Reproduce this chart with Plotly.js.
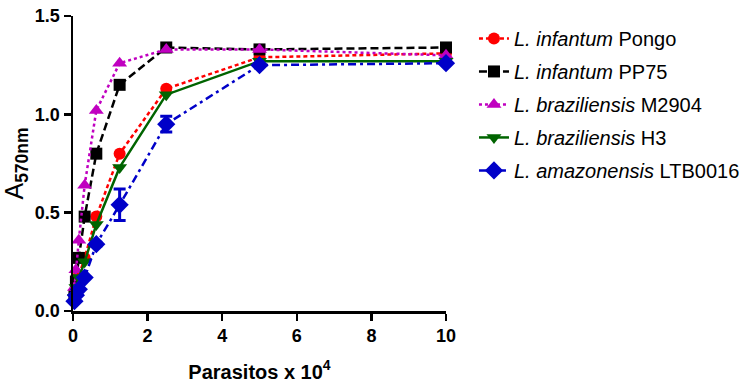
<!DOCTYPE html>
<html><head><meta charset="utf-8">
<script src="https://cdn.plot.ly/plotly-3.0.1.min.js"></script>
<style>html,body{margin:0;padding:0;background:#fff}#c{width:749px;height:389px}</style>
</head><body><div id="c"></div>
<script>
const xVals = [0.039, 0.078, 0.156, 0.3125, 0.625, 1.25, 2.5, 5, 10];
const seriesNames = ["<i>L. infantum</i> Pongo", "<i>L. infantum</i> PP75", "<i>L. braziliensis</i> M2904", "<i>L. braziliensis</i> H3", "<i>L. amazonensis</i> LTB0016"];
const pongo = [0.08, 0.12, 0.18, 0.27, 0.48, 0.80, 1.13, 1.29, 1.31];
const pp75 = [0.08, 0.15, 0.27, 0.48, 0.80, 1.15, 1.34, 1.33, 1.34];
const m2904 = [0.12, 0.21, 0.36, 0.64, 1.02, 1.26, 1.33, 1.33, 1.30];
const h3 = [0.07, 0.12, 0.17, 0.25, 0.44, 0.73, 1.10, 1.27, 1.27];
const ltb0016 = [0.05, 0.08, 0.11, 0.17, 0.34, 0.54, 0.95, 1.25, 1.26];
const ltb0016Err = [0, 0, 0, 0, 0.01, 0.08, 0.04, 0, 0];
const xTicks = [0, 2, 4, 6, 8, 10];
const yTicks = [0, 0.5, 1.0, 1.5];
const yTickText = ["0.0", "0.5", "1.0", "1.5"];

const colors = ["#ff0000", "#000000", "#c000c0", "#006400", "#0000c8"];
const symbols = ["circle", "square", "triangle-up", "triangle-down", "diamond"];
const dashes = ["4px,3px", "8px,4px", "3px,3px", "solid", "8px,4px,3px,4px"];
const sizes = [12, 12, 13, 13, 14];
const data = [pongo, pp75, m2904, h3, ltb0016];

const traces = data.map((ys, i) => {
  const t = {
    x: xVals, y: ys, type: "scatter", mode: "lines+markers",
    name: seriesNames[i], legendgroup: "g" + i,
    line: {color: colors[i], width: 2.5, dash: dashes[i]},
    marker: {color: colors[i], symbol: symbols[i], size: sizes[i]},
    cliponaxis: false
  };
  if (i === 4) {
    t.error_y = {type: "data", array: ltb0016Err, visible: true, color: colors[i], thickness: 3, width: 6};
  }
  return t;
});

const tickFont = {family: "'Liberation Sans', Arial, sans-serif", size: 18, color: "#000", weight: "bold"};

const layout = {
  width: 749, height: 389,
  margin: {l: 73, r: 303, t: 16, b: 78, autoexpand: false},
  paper_bgcolor: "#fff", plot_bgcolor: "#fff",
  showlegend: true,
  legend: {x: 1.075, y: 0.99, xanchor: "left", yanchor: "top",
    font: {family: "'Liberation Sans', Arial, sans-serif", size: 20, color: "#000"},
    tracegroupgap: 4, itemwidth: 30},
  xaxis: {
    range: [0, 10], tickvals: xTicks, ticktext: xTicks.map(String),
    showgrid: false, zeroline: false, showline: true, linecolor: "#000", linewidth: 2.5,
    ticks: "outside", ticklen: 7, tickwidth: 2.5, tickcolor: "#000",
    tickfont: tickFont,
    title: {text: "Parasitos x 10<sup>4</sup>", font: {family: "'Liberation Sans', Arial, sans-serif", size: 20, color: "#000", weight: "bold"}, standoff: 20}
  },
  yaxis: {
    range: [0, 1.5], tickvals: yTicks, ticktext: yTickText,
    showgrid: false, zeroline: false, showline: true, linecolor: "#000", linewidth: 2.5,
    ticks: "outside", ticklen: 7, tickwidth: 2.5, tickcolor: "#000",
    tickfont: tickFont,
    title: {text: "A<sub><b>570nm</b></sub>", font: {family: "'Liberation Sans', Arial, sans-serif", size: 25, color: "#000"}, standoff: 8}
  }
};
Plotly.newPlot("c", traces, layout, {displayModeBar: false, staticPlot: true});
</script></body></html>
